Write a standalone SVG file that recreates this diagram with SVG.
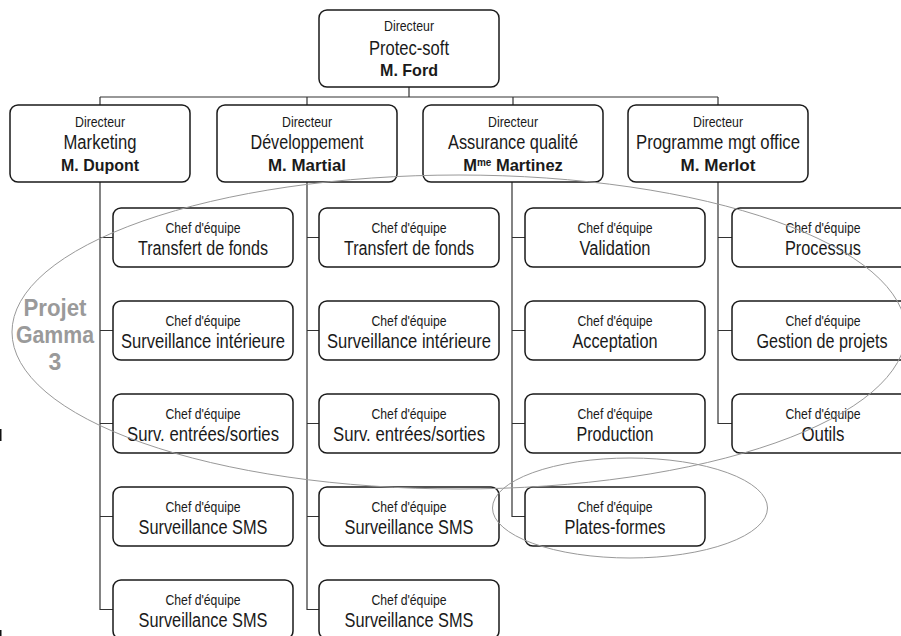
<svg xmlns="http://www.w3.org/2000/svg" width="901" height="636" viewBox="0 0 901 636">
<style>
.box{fill:#fff;stroke:#1a1a1a;stroke-width:1.5}
.c{fill:none;stroke:#333;stroke-width:1.2}
.t{font-family:"Liberation Sans",Arial,sans-serif;fill:#1a1a1a;text-anchor:middle}
.s{font-size:14.5px}
.m{font-size:19.5px}
.b{font-size:16.5px;font-weight:bold}
.ell{fill:none;stroke:#999;stroke-width:1}
.pg{font-family:"Liberation Sans",Arial,sans-serif;font-weight:bold;font-size:23px;fill:#9a9a9a;text-anchor:middle}
</style>
<rect width="901" height="636" fill="#fff"/>
<g id="connectors">
<path class="c" d="M409 87V97M100 97H718M100 97V105M307 97V105M513 97V105M718 97V105"/>
<path class="c" d="M100 182V609.5H113M100 237.5H113M100 330.5H113M100 423.5H113M100 516.5H113"/>
<path class="c" d="M307 182V609.5H319M307 237.5H319M307 330.5H319M307 423.5H319M307 516.5H319"/>
<path class="c" d="M512 182V516.5H525M512 237.5H525M512 330.5H525M512 423.5H525"/>
<path class="c" d="M718 182V423.5H732M718 237.5H732M718 330.5H732"/>
</g>
<g id="n-top"><rect class="box" x="319" y="10" width="180" height="77" rx="8"/>
<text class="t s" x="409" y="31" textLength="50" lengthAdjust="spacingAndGlyphs">Directeur</text>
<text class="t m" x="409" y="54.5" textLength="80" lengthAdjust="spacingAndGlyphs">Protec-soft</text>
<text class="t b" x="409" y="76" textLength="58" lengthAdjust="spacingAndGlyphs">M. Ford</text></g>
<g id="n-marketing"><rect class="box" x="10" y="105" width="180" height="77" rx="8"/>
<text class="t s" x="100" y="127" textLength="50" lengthAdjust="spacingAndGlyphs">Directeur</text>
<text class="t m" x="100" y="148.5" textLength="73" lengthAdjust="spacingAndGlyphs">Marketing</text>
<text class="t b" x="100" y="170.5" textLength="78" lengthAdjust="spacingAndGlyphs">M. Dupont</text></g>
<g id="n-dev"><rect class="box" x="217" y="105" width="180" height="77" rx="8"/>
<text class="t s" x="307" y="127" textLength="50" lengthAdjust="spacingAndGlyphs">Directeur</text>
<text class="t m" x="307" y="148.5" textLength="113" lengthAdjust="spacingAndGlyphs">Développement</text>
<text class="t b" x="307" y="170.5" textLength="78" lengthAdjust="spacingAndGlyphs">M. Martial</text></g>
<g id="n-qa"><rect class="box" x="423" y="105" width="180" height="77" rx="8"/>
<text class="t s" x="513" y="127" textLength="50" lengthAdjust="spacingAndGlyphs">Directeur</text>
<text class="t m" x="513" y="148.5" textLength="130" lengthAdjust="spacingAndGlyphs">Assurance qualité</text>
<text class="t b" x="513" y="170.5">M<tspan font-size="10" dy="-5">me</tspan><tspan dy="5"> Martinez</tspan></text></g>
<g id="n-pmo"><rect class="box" x="628" y="105" width="180" height="77" rx="8"/>
<text class="t s" x="718" y="127" textLength="50" lengthAdjust="spacingAndGlyphs">Directeur</text>
<text class="t m" x="718" y="148.5" textLength="164" lengthAdjust="spacingAndGlyphs">Programme mgt office</text>
<text class="t b" x="718" y="170.5" textLength="75" lengthAdjust="spacingAndGlyphs">M. Merlot</text></g>

<g id="c1r1"><rect class="box" x="113" y="208" width="180" height="59" rx="8"/>
<text class="t s" x="203" y="233" textLength="75" lengthAdjust="spacingAndGlyphs">Chef d'équipe</text>
<text class="t m" x="203" y="254.5" textLength="130" lengthAdjust="spacingAndGlyphs">Transfert de fonds</text></g>
<g id="c1r2"><rect class="box" x="113" y="301" width="180" height="59" rx="8"/>
<text class="t s" x="203" y="326" textLength="75" lengthAdjust="spacingAndGlyphs">Chef d'équipe</text>
<text class="t m" x="203" y="347.5" textLength="164" lengthAdjust="spacingAndGlyphs">Surveillance intérieure</text></g>
<g id="c1r3"><rect class="box" x="113" y="394" width="180" height="59" rx="8"/>
<text class="t s" x="203" y="419" textLength="75" lengthAdjust="spacingAndGlyphs">Chef d'équipe</text>
<text class="t m" x="203" y="440.5" textLength="152" lengthAdjust="spacingAndGlyphs">Surv. entrées/sorties</text></g>
<g id="c1r4"><rect class="box" x="113" y="487" width="180" height="59" rx="8"/>
<text class="t s" x="203" y="512" textLength="75" lengthAdjust="spacingAndGlyphs">Chef d'équipe</text>
<text class="t m" x="203" y="533.5" textLength="129" lengthAdjust="spacingAndGlyphs">Surveillance SMS</text></g>
<g id="c1r5"><rect class="box" x="113" y="580" width="180" height="59" rx="8"/>
<text class="t s" x="203" y="605" textLength="75" lengthAdjust="spacingAndGlyphs">Chef d'équipe</text>
<text class="t m" x="203" y="626.5" textLength="129" lengthAdjust="spacingAndGlyphs">Surveillance SMS</text></g>

<g id="c2r1"><rect class="box" x="319" y="208" width="180" height="59" rx="8"/>
<text class="t s" x="409" y="233" textLength="75" lengthAdjust="spacingAndGlyphs">Chef d'équipe</text>
<text class="t m" x="409" y="254.5" textLength="130" lengthAdjust="spacingAndGlyphs">Transfert de fonds</text></g>
<g id="c2r2"><rect class="box" x="319" y="301" width="180" height="59" rx="8"/>
<text class="t s" x="409" y="326" textLength="75" lengthAdjust="spacingAndGlyphs">Chef d'équipe</text>
<text class="t m" x="409" y="347.5" textLength="164" lengthAdjust="spacingAndGlyphs">Surveillance intérieure</text></g>
<g id="c2r3"><rect class="box" x="319" y="394" width="180" height="59" rx="8"/>
<text class="t s" x="409" y="419" textLength="75" lengthAdjust="spacingAndGlyphs">Chef d'équipe</text>
<text class="t m" x="409" y="440.5" textLength="152" lengthAdjust="spacingAndGlyphs">Surv. entrées/sorties</text></g>
<g id="c2r4"><rect class="box" x="319" y="487" width="180" height="59" rx="8"/>
<text class="t s" x="409" y="512" textLength="75" lengthAdjust="spacingAndGlyphs">Chef d'équipe</text>
<text class="t m" x="409" y="533.5" textLength="129" lengthAdjust="spacingAndGlyphs">Surveillance SMS</text></g>
<g id="c2r5"><rect class="box" x="319" y="580" width="180" height="59" rx="8"/>
<text class="t s" x="409" y="605" textLength="75" lengthAdjust="spacingAndGlyphs">Chef d'équipe</text>
<text class="t m" x="409" y="626.5" textLength="129" lengthAdjust="spacingAndGlyphs">Surveillance SMS</text></g>

<g id="c3r1"><rect class="box" x="525" y="208" width="180" height="59" rx="8"/>
<text class="t s" x="615" y="233" textLength="75" lengthAdjust="spacingAndGlyphs">Chef d'équipe</text>
<text class="t m" x="615" y="254.5" textLength="71" lengthAdjust="spacingAndGlyphs">Validation</text></g>
<g id="c3r2"><rect class="box" x="525" y="301" width="180" height="59" rx="8"/>
<text class="t s" x="615" y="326" textLength="75" lengthAdjust="spacingAndGlyphs">Chef d'équipe</text>
<text class="t m" x="615" y="347.5" textLength="85" lengthAdjust="spacingAndGlyphs">Acceptation</text></g>
<g id="c3r3"><rect class="box" x="525" y="394" width="180" height="59" rx="8"/>
<text class="t s" x="615" y="419" textLength="75" lengthAdjust="spacingAndGlyphs">Chef d'équipe</text>
<text class="t m" x="615" y="440.5" textLength="77" lengthAdjust="spacingAndGlyphs">Production</text></g>
<g id="c3r4"><rect class="box" x="525" y="487" width="180" height="59" rx="8"/>
<text class="t s" x="615" y="512" textLength="75" lengthAdjust="spacingAndGlyphs">Chef d'équipe</text>
<text class="t m" x="615" y="533.5" textLength="101" lengthAdjust="spacingAndGlyphs">Plates-formes</text></g>

<g id="c4r1"><rect class="box" x="732" y="208" width="180" height="59" rx="8"/>
<text class="t s" x="823" y="233" textLength="75" lengthAdjust="spacingAndGlyphs">Chef d'équipe</text>
<text class="t m" x="823" y="254.5" textLength="76" lengthAdjust="spacingAndGlyphs">Processus</text></g>
<g id="c4r2"><rect class="box" x="732" y="301" width="180" height="59" rx="8"/>
<text class="t s" x="823" y="326" textLength="75" lengthAdjust="spacingAndGlyphs">Chef d'équipe</text>
<text class="t m" x="822" y="347.5" textLength="131" lengthAdjust="spacingAndGlyphs">Gestion de projets</text></g>
<g id="c4r3"><rect class="box" x="732" y="394" width="180" height="59" rx="8"/>
<text class="t s" x="823" y="419" textLength="75" lengthAdjust="spacingAndGlyphs">Chef d'équipe</text>
<text class="t m" x="823" y="440.5" textLength="43" lengthAdjust="spacingAndGlyphs">Outils</text></g>

<g id="projet-gamma">
<ellipse class="ell" cx="459" cy="332" rx="447" ry="157"/>
<text class="pg" x="55" y="316" textLength="63" lengthAdjust="spacingAndGlyphs">Projet</text>
<text class="pg" x="55" y="343" textLength="78" lengthAdjust="spacingAndGlyphs">Gamma</text>
<text class="pg" x="55" y="370">3</text>
</g>
<g id="plates-formes-ellipse"><ellipse class="ell" cx="630" cy="508" rx="137.5" ry="50"/></g>
<g id="marks"><rect x="0" y="429" width="1.5" height="12" fill="#111"/><rect x="0" y="630" width="1.5" height="6" fill="#111"/></g>
</svg>
